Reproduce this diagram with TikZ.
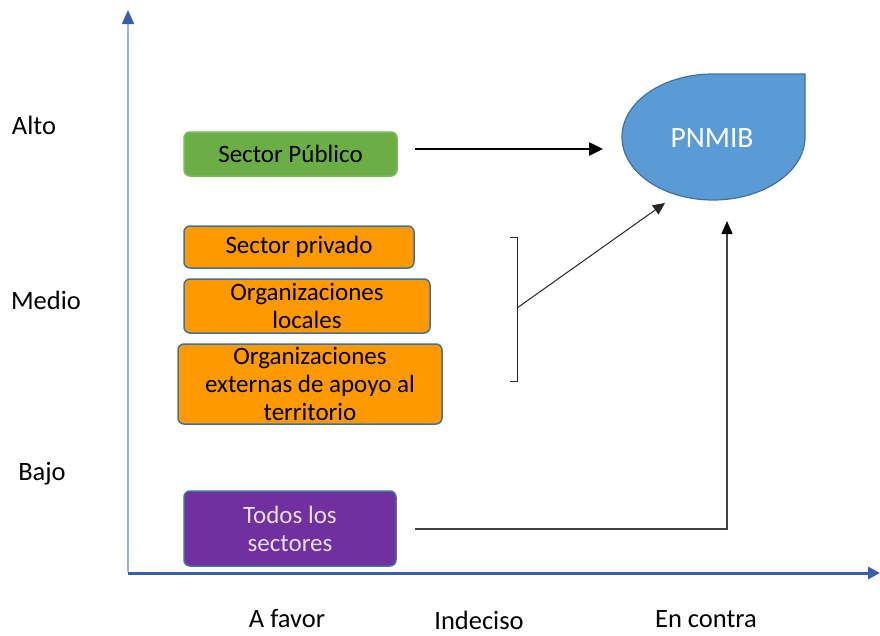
\documentclass[tikz,border=0pt]{standalone}
\usepackage{fontspec}
\setmainfont{Carlito}
\usetikzlibrary{arrows.meta}
\definecolor{axblue}{HTML}{3A5FA8}
\definecolor{axlight}{HTML}{9DB3DC}
\definecolor{bord}{HTML}{41719C}
\definecolor{orng}{HTML}{FF9900}
\definecolor{grn}{HTML}{6AAE45}
\definecolor{grnb}{HTML}{7CBB5A}
\definecolor{purp}{HTML}{7030A0}
\definecolor{purptxt}{HTML}{E8DDF2}
\definecolor{dropblue}{HTML}{5B9BD5}
\tikzset{
  lbl/.style={font=\fontsize{26.5}{28}\selectfont, text=black, inner sep=1pt},
  boxbase/.style={rounded corners=6pt, line width=1.5pt, align=center, font=\fontsize{25}{28}\selectfont, inner sep=0pt},
  orangebox/.style={boxbase, draw=bord, fill=orng, text=black},
  conn/.style={line width=1pt, draw=black!85},
}
\begin{document}
\begin{tikzpicture}[x=1pt,y=-1pt]
\useasboundingbox (0,0) rectangle (880,635);
% axes
\coordinate (o) at (128,573);
\coordinate (ytop) at (128,10);
\coordinate (xend) at (880,573);
\draw[axlight, line width=2pt, -{Triangle[length=14pt,width=12pt,color=axblue]}] (128,572) -- (ytop);
\draw[axblue, line width=3pt, -{Triangle[length=12pt,width=12pt]}] (128,573) -- (xend);
% axis labels
\node[lbl] (alto) at (34,125) {Alto};
\node[lbl] (medio) at (46,300) {Medio};
\node[lbl] (bajo) at (42,474) {Bajo};
\node[lbl] (afavor) at (287,619) {A favor};
\node[lbl] (indeciso) at (479,620) {Indeciso};
\node[lbl] (encontra) at (706,619) {En contra};
% boxes
\node[boxbase, draw=grnb, fill=grn, text=black, minimum width=213pt, minimum height=44pt] (pub) at (290.5,154) {Sector Público};
\node[orangebox, minimum width=230pt, minimum height=42pt] (priv) at (299,247) {Sector privado};
\node[orangebox, minimum width=246pt, minimum height=54pt] (loc) at (307,306) {Organizaciones\\locales};
\node[orangebox, minimum width=264pt, minimum height=80pt] (ext) at (310,384) {Organizaciones\\externas de apoyo al\\territorio};
\node[boxbase, draw=bord, fill=purp, text=purptxt, minimum width=212pt, minimum height=75pt] (todos) at (290,528.5) {Todos los\\sectores};
% teardrop
\draw[bord, line width=1.2pt, fill=dropblue]
  (805,137) .. controls (805,171.8) and (763.3,200) .. (713,200)
  .. controls (662.7,200) and (622,171.8) .. (622,137)
  .. controls (622,102.2) and (662.7,74) .. (713,74)
  -- (805,74) -- cycle;
\node[font=\fontsize{29.5}{31}\selectfont, text=white] (pnmib) at (712,138) {PNMIB};
% connectors
\coordinate (a1s) at (415,149);
\coordinate (a1e) at (603,149);
\draw[black, line width=2.5pt, -{Triangle[length=14pt,width=13pt]}] (a1s) -- (a1e);
% bracket
\coordinate (bt) at (517,237);
\coordinate (bb) at (517,381);
\coordinate (bm) at (517,308);
\coordinate (a2e) at (665,203);
\draw[conn] (510,237) -- (bt) -- (bb) -- (510,381);
\draw[conn, -{Triangle[length=12pt,width=11pt]}] (bm) -- (a2e);
\coordinate (t1) at (415,529);
\coordinate (t2) at (727,529);
\coordinate (t3) at (727,221);
\draw[line width=1.5pt, draw=black!75, -{Triangle[length=13pt,width=11pt,color=black]}] (t1) -- (t2) -- (t3);
\end{tikzpicture}
\end{document}
